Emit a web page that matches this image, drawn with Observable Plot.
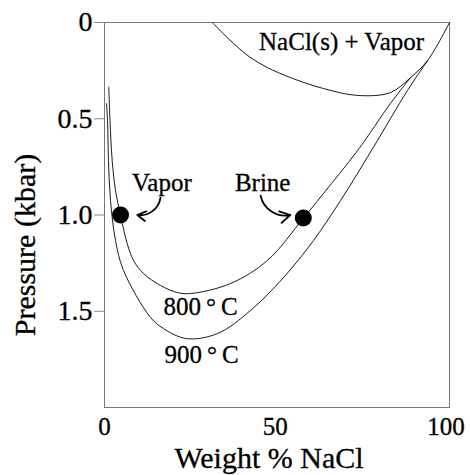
<!DOCTYPE html>
<html><head><meta charset="utf-8">
<script src="https://cdn.jsdelivr.net/npm/d3@7"></script>
<script src="https://cdn.jsdelivr.net/npm/@observablehq/plot@0.6"></script>
<style>
body{margin:0;background:#fff}
svg text{paint-order:stroke;stroke:#000;stroke-width:0.3px}
</style>
</head><body><div id="chart"></div>
<script>
// NaCl(s) + Vapor boundary (halite saturation)
const haliteX = [31.6, 34.6, 37.8, 42.4, 47.7, 54.4, 64.1, 74.1, 83.7, 89.6, 94.6, 101];
const haliteP = [0, 0.055, 0.109, 0.178, 0.234, 0.286, 0.343, 0.379, 0.364, 0.286, 0.197, 0];
// 800 °C two-phase envelope
const c800X = [1.26, 1.61, 2.25, 3.22, 4.68, 6.64, 8.49, 11.42, 16.39, 21.37, 25.2, 36.9, 47.7, 58.2, 64.1, 74.1, 83.7, 89.6];
const c800P = [0.336, 0.509, 0.717, 0.873, 1.0, 1.148, 1.236, 1.304, 1.366, 1.403, 1.408, 1.356, 1.236, 1.017, 0.888, 0.665, 0.421, 0.286];
// 900 °C two-phase envelope
const c900X = [0.59, 0.88, 1.17, 1.76, 3.22, 5.56, 13.47, 17.27, 24.0, 33.08, 42.74, 52.4, 61.2, 69.1, 78.7, 88.7, 94.6];
const c900P = [0.421, 0.509, 0.717, 0.925, 1.132, 1.288, 1.532, 1.59, 1.642, 1.616, 1.496, 1.325, 1.132, 0.925, 0.649, 0.353, 0.197];
// coexisting phases at 1 kbar, 800 °C
const dotNames = ["Vapor", "Brine"];
const dotX = [4.7, 58.2];
const dotP = [1.0, 1.015];
// annotation labels
const labelText = ["Vapor", "Brine", "800\u2009°\u2009C", "900\u2009°\u2009C", "NaCl(s) + Vapor"];
const labelX = [16.8, 46.3, 28.1, 28.4, 69.4];
const labelP = [0.873, 0.873, 1.522, 1.771, 0.145];
// arrows: label -> dot
const vaporArrow = {x1: 16.4, p1: 0.91, x2: 9.6, p2: 1.0};
const brineArrow = {x1: 45.7, p1: 0.9, x2: 54.4, p2: 1.0};
const xTicks = [0, 50, 100];
const yTicks = [0, 0.5, 1.0, 1.5];

const curves = [
  ...haliteX.map((x, i) => ({series: "halite", x, p: haliteP[i]})),
  ...c800X.map((x, i) => ({series: "800", x, p: c800P[i]})),
  ...c900X.map((x, i) => ({series: "900", x, p: c900P[i]}))
];
const dots = dotNames.map((n, i) => ({n, x: dotX[i], p: dotP[i]}));
const labels = labelText.map((t, i) => ({t, x: labelX[i], p: labelP[i]}));
const yFmt = d => d === 0 ? "0" : d.toFixed(1);

const hasAxisMarks = typeof Plot.axisY === "function";
const axisMarks = hasAxisMarks ? [
  Plot.axisY(yTicks, {tickSize: 10, tickPadding: 2, tickFormat: yFmt, fontSize: 28, stroke: "#888", fill: "black", label: null}),
  Plot.axisX(xTicks, {tickSize: 0, tickPadding: 10, fontSize: 25, fill: "black", label: null})
] : [];

const chart = Plot.plot({
  width: 470, height: 475,
  marginLeft: 104, marginRight: 21, marginTop: 22, marginBottom: 68,
  style: {fontFamily: "'Liberation Serif', serif", fontSize: "25px", background: "white", color: "black"},
  x: {domain: [0, 101], ticks: xTicks, tickSize: 0, tickPadding: 10, label: null},
  y: {domain: [0, 2], reverse: true, ticks: yTicks, tickFormat: yFmt, tickSize: 10, tickPadding: 2, label: null},
  marks: [
    ...axisMarks,
    Plot.frame({stroke: "#777"}),
    Plot.line(curves, {x: "x", y: "p", z: "series", curve: "catmull-rom", stroke: "black", strokeWidth: 0.9}),
    Plot.dot(dots, {x: "x", y: "p", r: 8.5, fill: "black", stroke: "none"}),
    Plot.arrow([vaporArrow], {x1: "x1", y1: "p1", x2: "x2", y2: "p2", bend: 45, headLength: 10, strokeWidth: 1.8, stroke: "black"}),
    Plot.arrow([brineArrow], {x1: "x1", y1: "p1", x2: "x2", y2: "p2", bend: -45, headLength: 10, strokeWidth: 1.8, stroke: "black"}),
    Plot.text(labels, {x: "x", y: "p", text: "t", lineAnchor: "bottom", textAnchor: "middle", fontSize: 25}),
    Plot.text(["Weight % NaCl"], {frameAnchor: "bottom", textAnchor: "middle", dy: 60, dx: -8, lineAnchor: "bottom", fontSize: 30}),
    Plot.text(["Pressure (kbar)"], {frameAnchor: "left", textAnchor: "middle", rotate: -90, dx: -79, dy: 30, fontSize: 30})
  ]
});
document.getElementById("chart").appendChild(chart);
</script>
</body></html>
